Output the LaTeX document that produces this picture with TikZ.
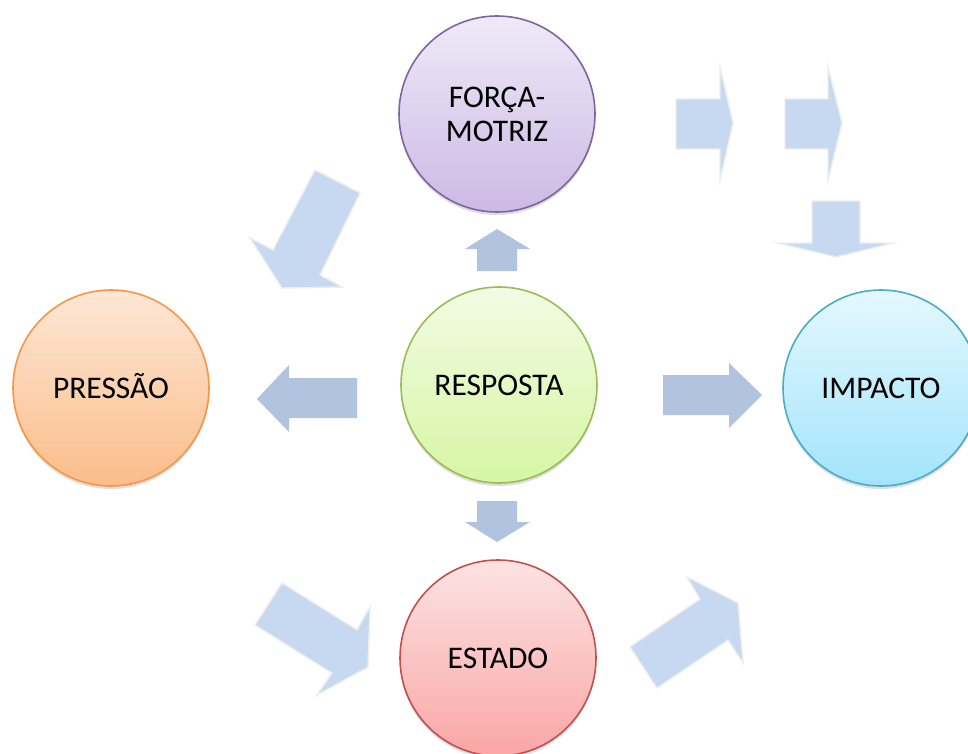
\documentclass[tikz,border=0pt]{standalone}
\usepackage{fontspec}
\setmainfont{Carlito}
\usetikzlibrary{shadows}
\definecolor{darkarrow}{HTML}{B1C3DE}
\definecolor{lightarrow}{HTML}{C6D9F0}
\definecolor{glow}{HTML}{EDEDED}
\tikzset{
  circ/.style={circle, minimum size=196pt, inner sep=0pt, line width=1.6pt,
    font=\fontsize{31.5}{34}\selectfont, text height=20pt, text depth=0pt,
    drop shadow={shadow xshift=0pt, shadow yshift=-3pt, opacity=0.13, fill=black}},
  darr/.style={fill=darkarrow, draw=none},
  larr/.style={fill=lightarrow, draw=glow, line width=1.4pt, line join=miter}
}
\begin{document}
\begin{tikzpicture}[x=1pt, y=-1pt]
\useasboundingbox (0,0) rectangle (968,754);
\clip (0,0) rectangle (968,754);
\fill[white] (0,0) rectangle (968,754);

% light decorative arrows
\draw[larr] (315,170) -- (360,193) -- (320,275) -- (342,287) -- (282,288) -- (250,238) -- (273,250) -- cycle;
\draw[larr] (676,99) -- (720,99) -- (720,67) -- (733,123) -- (720,180) -- (720,149) -- (676,149) -- cycle;
\draw[larr] (785,99) -- (828,99) -- (828,67) -- (842,123) -- (828,180) -- (828,149) -- (785,149) -- cycle;
\draw[larr] (812,201) -- (860,201) -- (860,243) -- (893,243) -- (836,257) -- (778,243) -- (812,243) -- cycle;
\draw[larr] (282,583) -- (357,630) -- (370,607) -- (368,667) -- (317,695) -- (332,673) -- (255,625) -- cycle;
\draw[larr] (630,647) -- (700,599) -- (687,577) -- (738,603) -- (743,663) -- (728,640) -- (657,688) -- cycle;

% darker arrows around RESPOSTA
\fill[darr] (477,271) -- (477,249) -- (465,249) -- (497,229) -- (530,249) -- (517,249) -- (517,271) -- cycle;
\fill[darr] (357,378) -- (289,378) -- (289,365) -- (257,399) -- (289,432) -- (289,418) -- (357,418) -- cycle;
\fill[darr] (663,375) -- (729,375) -- (729,363) -- (762,395) -- (729,428) -- (729,415) -- (663,415) -- cycle;
\fill[darr] (477,501) -- (517,501) -- (517,522) -- (530,522) -- (497,542) -- (465,522) -- (477,522) -- cycle;

% circles
\node[circ, draw={rgb,255:red,128;green,100;blue,162}, top color={rgb,255:red,239;green,234;blue,247}, bottom color={rgb,255:red,204;green,185;blue,229},
  text height=, text depth=, align=center] (forca) at (497,114) {FORÇA-\\MOTRIZ};
\node[circ, draw={rgb,255:red,155;green,187;blue,89}, top color={rgb,255:red,242;green,251;blue,228}, bottom color={rgb,255:red,214;green,246;blue,163}] (resposta) at (499,385) {RESPOSTA};
\node[circ, draw={rgb,255:red,247;green,150;blue,70}, top color={rgb,255:red,253;green,231;blue,213}, bottom color={rgb,255:red,251;green,189;blue,138}] (pressao) at (111,388) {PRESSÃO};
\node[circ, draw={rgb,255:red,75;green,172;blue,198}, top color={rgb,255:red,228;green,248;blue,254}, bottom color={rgb,255:red,163;green,228;blue,251}] (impacto) at (881,388) {IMPACTO};
\node[circ, draw={rgb,255:red,192;green,80;blue,77}, top color={rgb,255:red,253;green,227;blue,227}, bottom color={rgb,255:red,250;green,166;blue,166}] (estado) at (498,658) {ESTADO};
\end{tikzpicture}
\end{document}
